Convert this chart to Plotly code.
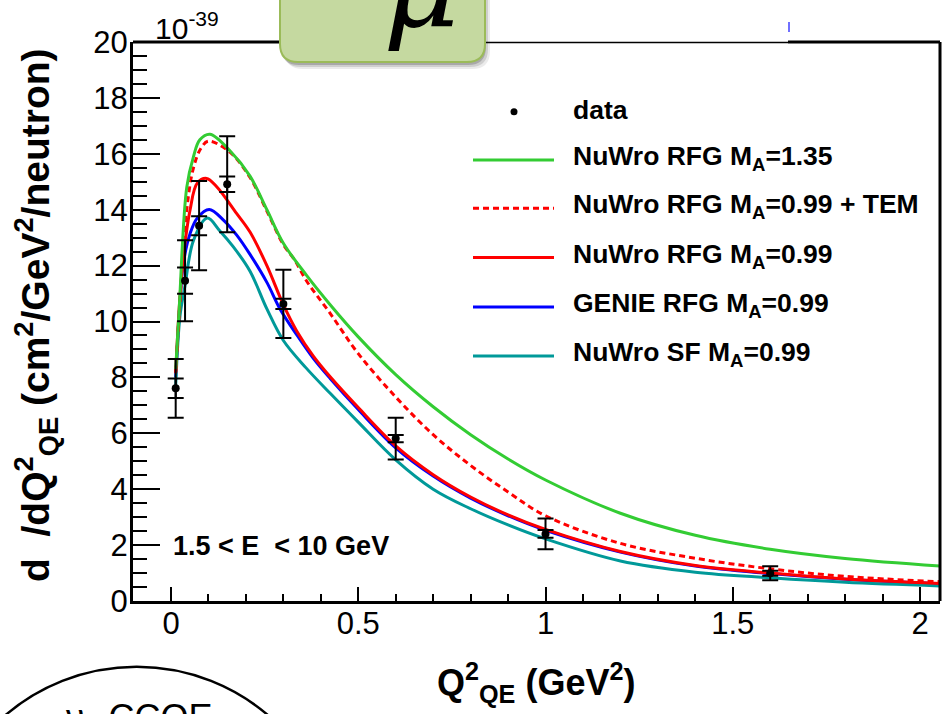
import plotly.graph_objects as go

# ---------------- data ----------------
q2_data = [0.0125, 0.0375, 0.075, 0.15, 0.30, 0.60, 1.00, 1.60]
xs_data = [7.61, 11.46, 13.43, 14.91, 10.63, 5.81, 2.40, 0.99]
err_total = [1.05, 1.45, 1.60, 1.72, 1.22, 0.75, 0.55, 0.25]
err_stat = [0.35, 0.47, 0.34, 0.28, 0.18, 0.13, 0.14, 0.09]

green_x = [0.0125, 0.022, 0.042, 0.06, 0.077, 0.104, 0.158, 0.211, 0.256, 0.30, 0.362, 0.425,
           0.5, 0.6, 0.7, 0.8, 0.9, 1.0, 1.2, 1.4, 1.6, 1.8, 2.053]
green_y = [8.3, 10.5, 14.8, 15.9, 16.5, 16.7, 16.1, 15.2, 14.0, 12.8, 11.65, 10.6,
           9.45, 8.1, 6.95, 5.95, 5.08, 4.33, 3.14, 2.35, 1.85, 1.52, 1.25]

tem_x = [0.0125, 0.022, 0.042, 0.06, 0.08, 0.10, 0.158, 0.211, 0.256, 0.30, 0.33, 0.362, 0.425,
         0.5, 0.6, 0.7, 0.8, 0.9, 1.0, 1.2, 1.4, 1.6, 1.8, 2.053]
tem_y = [8.2, 10.3, 14.0, 15.5, 16.2, 16.45, 16.05, 15.15, 13.95, 12.75, 12.2, 11.45, 10.29,
         8.85, 7.3, 5.95, 4.85, 3.9, 3.05, 2.06, 1.53, 1.15, 0.88, 0.69]

red_x = [0.0125, 0.022, 0.033, 0.051, 0.07, 0.095, 0.122, 0.175, 0.211, 0.256, 0.30, 0.336,
         0.38, 0.425, 0.5, 0.6, 0.7, 0.8, 0.9, 1.0, 1.2, 1.4, 1.6, 1.8, 2.053]
red_y = [8.15, 10.5, 12.3, 14.0, 14.95, 15.12, 14.82, 13.87, 13.2, 12.0, 10.6, 9.65,
         8.76, 8.02, 6.92, 5.55, 4.52, 3.72, 3.08, 2.56, 1.77, 1.27, 1.0, 0.79, 0.63]

blue_x = [0.0125, 0.022, 0.033, 0.051, 0.07, 0.102, 0.14, 0.175, 0.211, 0.256, 0.291, 0.336,
          0.38, 0.425, 0.5, 0.6, 0.7, 0.8, 0.9, 1.0, 1.2, 1.4, 1.6, 1.8, 2.053]
blue_y = [8.0, 10.3, 12.08, 13.15, 13.7, 14.01, 13.63, 13.1, 12.4, 11.4, 10.45, 9.52,
          8.68, 7.96, 6.85, 5.48, 4.47, 3.68, 3.05, 2.53, 1.75, 1.25, 0.98, 0.78, 0.62]

sf_x = [0.0125, 0.024, 0.037, 0.06, 0.097, 0.13, 0.166, 0.211, 0.256, 0.30, 0.36, 0.425,
        0.5, 0.6, 0.7, 0.8, 0.9, 1.0, 1.2, 1.4, 1.6, 1.8, 2.053]
sf_y = [7.7, 10.2, 11.25, 12.9, 13.7, 13.25, 12.68, 11.8, 10.45, 9.32, 8.35, 7.43,
        6.4, 5.05, 4.0, 3.3, 2.72, 2.22, 1.43, 1.03, 0.83, 0.67, 0.54]

legend_labels = ["data", "NuWro RFG M<sub>A</sub>=1.35", "NuWro RFG M<sub>A</sub>=0.99 + TEM",
                 "NuWro RFG M<sub>A</sub>=0.99", "GENIE RFG M<sub>A</sub>=0.99", "NuWro SF M<sub>A</sub>=0.99"]
x_ticks = [0, 0.5, 1, 1.5, 2]
x_tick_text = ["0", "0.5", "1", "1.5", "2"]
y_ticks = [0, 2, 4, 6, 8, 10, 12, 14, 16, 18, 20]

GREEN = "#33cc33"
RED = "#ff0000"
BLUE = "#0000ff"
TEAL = "#009999"

# ---------------- geometry (pixels) ----------------
W, H = 942, 714
L, R, T, B = 133, 940, 42, 601


def px(x):
    return (x - L) / (R - L)


def py(y):
    return (B - y) / (B - T)


FONT = "Liberation Sans, Arial, Helvetica, sans-serif"

fig = go.Figure()

curves = [
    (blue_x, blue_y, BLUE, "solid"),
    (sf_x, sf_y, TEAL, "solid"),
    (red_x, red_y, RED, "solid"),
    (tem_x, tem_y, RED, "6px,4px"),
    (green_x, green_y, GREEN, "solid"),
]
for cx, cy, col, dash in curves:
    fig.add_trace(go.Scatter(x=cx, y=cy, mode="lines",
                             line=dict(color=col, width=3, dash=dash, shape="spline", smoothing=1.0),
                             showlegend=False, hoverinfo="skip"))

fig.add_trace(go.Scatter(x=q2_data, y=xs_data, mode="markers",
                         marker=dict(color="black", size=8),
                         error_y=dict(type="data", array=err_total, color="black", thickness=2, width=8),
                         showlegend=False))
fig.add_trace(go.Scatter(x=q2_data, y=xs_data, mode="markers",
                         marker=dict(color="rgba(0,0,0,0)", size=1),
                         error_y=dict(type="data", array=err_stat, color="black", thickness=2, width=8),
                         showlegend=False))

shapes = []
# frame: right border and top border pieces
shapes.append(dict(type="line", xref="paper", yref="paper", x0=1, x1=1, y0=0, y1=1,
                   line=dict(color="black", width=3)))
shapes.append(dict(type="line", xref="paper", yref="paper", x0=px(L), x1=px(282), y0=1, y1=1,
                   line=dict(color="black", width=3)))
shapes.append(dict(type="line", xref="paper", yref="paper", x0=px(480), x1=px(788), y0=py(42.5), y1=py(42.5),
                   line=dict(color="black", width=1.5)))
shapes.append(dict(type="line", xref="paper", yref="paper", x0=px(788), x1=1, y0=1, y1=1,
                   line=dict(color="black", width=3)))
shapes.append(dict(type="line", xref="paper", yref="paper", x0=px(789), x1=px(789), y0=py(22), y1=py(32),
                   line=dict(color="#4040ff", width=1.5)))


def rounded_rect(x0, y0, x1, y1, r):
    pts = [
        f"M {px(x0 + r)} {py(y0)}",
        f"L {px(x1 - r)} {py(y0)}",
        f"Q {px(x1)} {py(y0)} {px(x1)} {py(y0 + r)}",
        f"L {px(x1)} {py(y1 - r)}",
        f"Q {px(x1)} {py(y1)} {px(x1 - r)} {py(y1)}",
        f"L {px(x0 + r)} {py(y1)}",
        f"Q {px(x0)} {py(y1)} {px(x0)} {py(y1 - r)}",
        f"L {px(x0)} {py(y0 + r)}",
        f"Q {px(x0)} {py(y0)} {px(x0 + r)} {py(y0)}",
        "Z",
    ]
    return " ".join(pts)


# shadow of green box
for off, op in [(7, 0.08), (5, 0.12), (3, 0.18)]:
    shapes.append(dict(type="path", xref="paper", yref="paper",
                       path=rounded_rect(280 + off - 2, -30, 485 + off - 2, 62 + off, 18),
                       fillcolor=f"rgba(0,0,0,{op})", line=dict(width=0)))
shapes.append(dict(type="path", xref="paper", yref="paper",
                   path=rounded_rect(280, -30, 485, 62, 18),
                   fillcolor="#c5d9a0", line=dict(color="#9bbb59", width=2)))

# circle bottom-left
shapes.append(dict(type="circle", xref="paper", yref="paper",
                   x0=px(136.7 - 202), x1=px(136.7 + 202), y0=py(868.7 + 202), y1=py(868.7 - 202),
                   line=dict(color="black", width=2.5)))

# legend sample lines
leg_y = [111.7, 160, 208.3, 257.5, 307, 356]
leg_styles = [(GREEN, "solid"), (RED, "6px,4px"), (RED, "solid"), (BLUE, "solid"), (TEAL, "solid")]
for (col, dash), yy in zip(leg_styles, leg_y[1:]):
    shapes.append(dict(type="line", xref="paper", yref="paper", x0=px(473), x1=px(554), y0=py(yy), y1=py(yy),
                       line=dict(color=col, width=3, dash=dash)))
shapes.append(dict(type="circle", xref="paper", yref="paper", x0=px(510.5), x1=px(517.5),
                   y0=py(leg_y[0] + 3.5), y1=py(leg_y[0] - 3.5), fillcolor="black", line=dict(width=0)))

annotations = []
for lab, yy in zip(legend_labels, leg_y):
    annotations.append(dict(x=px(571), y=py(yy - 2), xref="paper", yref="paper", text=lab, showarrow=False,
                            xanchor="left", yanchor="middle",
                            font=dict(family=FONT, size=26.5, color="black", weight="bold")))

# y-axis title
annotations.append(dict(x=px(36), y=py(315), xref="paper", yref="paper",
                        text="d\u00a0\u00a0/dQ<sup>2</sup><sub>QE</sub> (cm<sup>2</sup>/GeV<sup>2</sup>/neutron)",
                        textangle=-90, showarrow=False, xanchor="center", yanchor="middle",
                        font=dict(family=FONT, size=39, color="black", weight="bold")))
# x-axis title
annotations.append(dict(x=px(536), y=py(682), xref="paper", yref="paper",
                        text="Q<sup>2</sup><sub>QE</sub> (GeV<sup>2</sup>)",
                        showarrow=False, xanchor="center", yanchor="middle",
                        font=dict(family=FONT, size=36, color="black", weight="bold")))
# exponent
annotations.append(dict(x=px(153), y=py(26), xref="paper", yref="paper",
                        text="10<sup>-39</sup>", showarrow=False, xanchor="left", yanchor="middle",
                        font=dict(family=FONT, size=30, color="black")))
# energy range
annotations.append(dict(x=px(171), y=py(546), xref="paper", yref="paper",
                        text="1.5 &lt; E\u00a0\u00a0&lt; 10 GeV", showarrow=False, xanchor="left", yanchor="middle",
                        font=dict(family=FONT, size=27, color="black", weight="bold")))
# mu in the green box
annotations.append(dict(x=px(421), y=py(-15), xref="paper", yref="paper",
                        text="μ", showarrow=False, xanchor="center", yanchor="middle",
                        font=dict(family="DejaVu Serif, serif", size=118, color="black", style="italic")))
# CCQE in circle
annotations.append(dict(x=px(64), y=py(720), xref="paper", yref="paper",
                        text="ν<sub>μ</sub> CCQE", showarrow=False, xanchor="left", yanchor="middle",
                        font=dict(family=FONT, size=36, color="black")))

fig.update_layout(
    width=W, height=H,
    margin=dict(l=L, r=W - R, t=T, b=H - B, pad=0),
    paper_bgcolor="white", plot_bgcolor="white",
    showlegend=False,
    shapes=shapes,
    annotations=annotations,
    xaxis=dict(range=[-0.1015, 2.0534], tickvals=x_ticks, ticktext=x_tick_text,
               ticks="inside", ticklen=14, tickwidth=2, tickcolor="black",
               minor=dict(dtick=0.1, tick0=0, ticks="inside", ticklen=7, tickwidth=2, tickcolor="black"),
               showline=True, linecolor="black", linewidth=3, showgrid=False, zeroline=False,
               ticklabelstandoff=-7,
               tickfont=dict(family=FONT, size=31, color="black"), automargin=False),
    yaxis=dict(range=[0, 20], tickvals=y_ticks,
               ticks="inside", ticklen=27, tickwidth=2, tickcolor="black",
               minor=dict(dtick=0.5, tick0=0, ticks="inside", ticklen=14, tickwidth=2, tickcolor="black"),
               showline=True, linecolor="black", linewidth=3, showgrid=False, zeroline=False,
               ticklabelstandoff=-4,
               tickfont=dict(family=FONT, size=31, color="black"), automargin=False),
)

fig.write_html("out.html", config={"displayModeBar": False},
               post_script="document.body.style.margin='0';")
